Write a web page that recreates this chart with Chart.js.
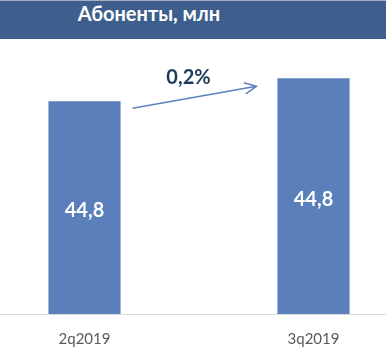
<!DOCTYPE html>
<html>
<head>
<meta charset="utf-8">
<script src="https://cdn.jsdelivr.net/npm/chart.js@4"></script>
<style>
  html, body { margin: 0; padding: 0; background: #fff; overflow: hidden; }
  body { width: 386px; height: 363px; position: relative; }
  #header {
    position: absolute; left: 0; top: 0; width: 386px; height: 38px;
    background: #3E5F8E; border-top: 1px solid #A7B0C0;
  }
  #header span {
    position: absolute; left: 0; width: 298px; top: 0; line-height: 38px;
    text-align: center; color: #fff; font: bold 20px Lato, sans-serif;
  }
  #wrap { position: absolute; left: -30px; top: 0; width: 458px; height: 363px; }
  #chart { display: block; }
</style>
</head>
<body>
<div id="wrap"><canvas id="chart" width="458" height="363"></canvas></div>
<div id="header"><span>Абоненты, млн</span></div>
<script>
// Data
const quarters = ['2q2019', '3q2019'];
const subscribers = [44.75, 44.84];
const yMin = 43.92;
const yMax = 44.97;

const fmt = v => v.toFixed(1).replace('.', ',');

// Labels inside bars + growth arrow
const annotate = {
  id: 'annotate',
  afterDatasetsDraw(chart) {
    const ctx = chart.ctx;
    const bars = chart.getDatasetMeta(0).data;
    const bottom = chart.chartArea.bottom;
    ctx.save();
    ctx.fillStyle = '#fff';
    ctx.font = 'bold 20px Lato, sans-serif';
    ctx.textAlign = 'center';
    ctx.textBaseline = 'middle';
    bars.forEach((b, i) => {
      ctx.fillText(fmt(subscribers[i]), b.x, (b.y + bottom) / 2 + 3);
    });

    // arrow between bars
    const a = bars[0], c = bars[1];
    const x1 = a.x + a.width / 2 + 12, y1 = a.y + 7;
    const x2 = c.x - c.width / 2 - 21, y2 = c.y + 8;
    ctx.strokeStyle = '#5B80BD';
    ctx.lineWidth = 1.5;
    ctx.beginPath();
    ctx.moveTo(x1, y1);
    ctx.lineTo(x2, y2);
    const ang = Math.atan2(y2 - y1, x2 - x1);
    const len = 13, spread = 0.45;
    ctx.moveTo(x2 - len * Math.cos(ang - spread), y2 - len * Math.sin(ang - spread));
    ctx.lineTo(x2, y2);
    ctx.lineTo(x2 - len * Math.cos(ang + spread), y2 - len * Math.sin(ang + spread));
    ctx.stroke();

    const growth = (subscribers[1] - subscribers[0]) / subscribers[0] * 100;
    ctx.fillStyle = '#1F3A5F';
    ctx.font = 'bold 20px Lato, sans-serif';
    ctx.fillText(fmt(growth) + '%', (x1 + x2) / 2 - 6, (y1 + y2) / 2 - 20);
    ctx.restore();
  }
};

new Chart(document.getElementById('chart'), {
  type: 'bar',
  data: {
    labels: quarters,
    datasets: [{
      data: subscribers,
      backgroundColor: '#5A7FBB',
      categoryPercentage: 1,
      barPercentage: 0.315
    }]
  },
  options: {
    responsive: false,
    animation: false,
    devicePixelRatio: 1,
    layout: { padding: { top: 45, bottom: 7 } },
    plugins: { legend: { display: false }, tooltip: { enabled: false } },
    scales: {
      x: {
        grid: { display: false },
        border: { display: true, color: '#D9D9D9', width: 1 },
        ticks: { color: '#595959', font: { family: 'Lato, sans-serif', size: 15 }, padding: 8 }
      },
      y: { display: false, min: yMin, max: yMax }
    }
  },
  plugins: [annotate]
});
</script>
</body>
</html>
